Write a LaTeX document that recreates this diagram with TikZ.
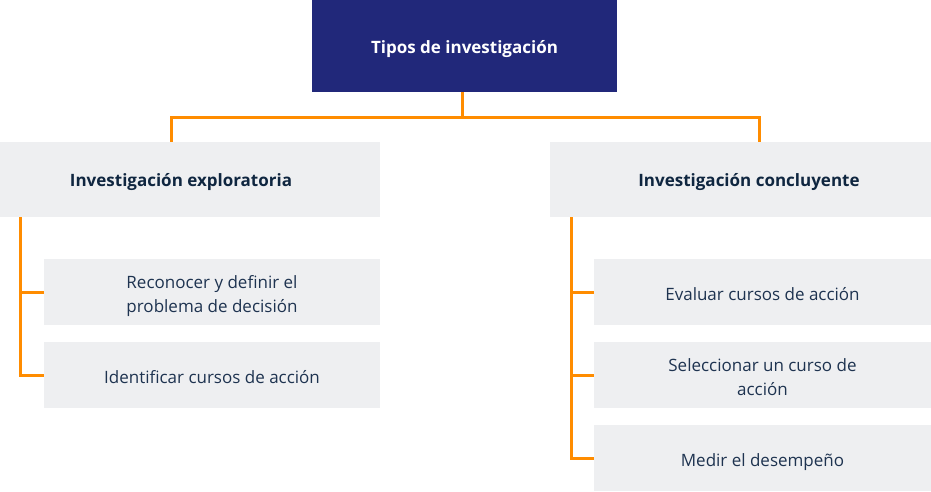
\documentclass[tikz,border=0pt]{standalone}
\usepackage{fontspec}
\setmainfont{Open Sans}
\definecolor{navy}{HTML}{21287A}
\definecolor{orng}{HTML}{FF8C00}
\definecolor{boxg}{HTML}{EEEFF1}
\definecolor{txt}{HTML}{0F2640}
\definecolor{txtr}{HTML}{1E3350}
\begin{document}
\begin{tikzpicture}[x=1pt,y=-1pt,
  topbox/.style={fill=navy,inner sep=0pt,minimum width=305pt,minimum height=92pt},
  midbox/.style={fill=boxg,inner sep=0pt,minimum width=398pt,minimum height=75pt},
  leafbox/.style={fill=boxg,inner sep=0pt,minimum width=337pt,minimum height=66pt},
  toplbl/.style={text=white,font=\fontsize{17}{21}\selectfont\bfseries,inner sep=0pt,text height=13pt,text depth=4pt},
  midlbl/.style={text=txt,font=\fontsize{17}{21}\selectfont\bfseries,inner sep=0pt,text height=13pt,text depth=4pt},
  leaflbl/.style={text=txtr,font=\fontsize{17}{24}\selectfont,inner sep=0pt,text height=13pt,text depth=4pt},
  leaflbltwo/.style={text=txtr,font=\fontsize{17}{24}\selectfont,inner sep=0pt,align=center},
  conn/.style={draw=orng,line width=3pt}]
\useasboundingbox (0,0) rectangle (931,491);
\begin{scope}
\clip (0,0) rectangle (931,491);
% boxes
\node[topbox,label={[toplbl,yshift=-2.5pt]center:Tipos de investigación}] (top) at (464.5,46) {};
\node[midbox,label={[midlbl,yshift=-2pt]center:Investigación exploratoria}] (expl) at (181,179.5) {};
\node[midbox,label={[midlbl,yshift=-2pt]center:Investigación concluyente}] (conc) at (749,179.5) {};
\node[leafbox,minimum width=336pt,label={[leaflbltwo,yshift=-3.6pt]center:Reconocer y definir el\\problema de decisión}] (l1) at (212,292) {};
\node[leafbox,minimum width=336pt,label={[leaflbl,yshift=-3.5pt]center:Identificar cursos de acción}] (l2) at (212,375) {};
\node[leafbox,label={[leaflbl,yshift=-3.5pt]center:Evaluar cursos de acción}] (r1) at (762.5,292) {};
\node[leafbox,label={[leaflbltwo,yshift=-2.2pt]center:Seleccionar un curso de\\acción}] (r2) at (762.5,375) {};
\node[leafbox,label={[leaflbl,yshift=-3.5pt]center:Medir el desempeño}] (r3) at (762.5,458) {};
% connectors
\coordinate (hl) at (171,117);
\coordinate (hr) at (759,117);
\draw[conn] (top.south -| 462,0) |- (hl) -- (hl |- expl.north);
\draw[conn] (hl -| 462,0) -| (hr |- conc.north);
\coordinate (vl) at (20,217);
\draw[conn] (vl) |- (l2.west);
\draw[conn] (vl |- l1.west) -- (l1.west);
\coordinate (vr) at (571,217);
\draw[conn] (vr) |- (r3.west);
\draw[conn] (vr |- r1.west) -- (r1.west);
\draw[conn] (vr |- r2.west) -- (r2.west);
\end{scope}
\end{tikzpicture}
\end{document}
